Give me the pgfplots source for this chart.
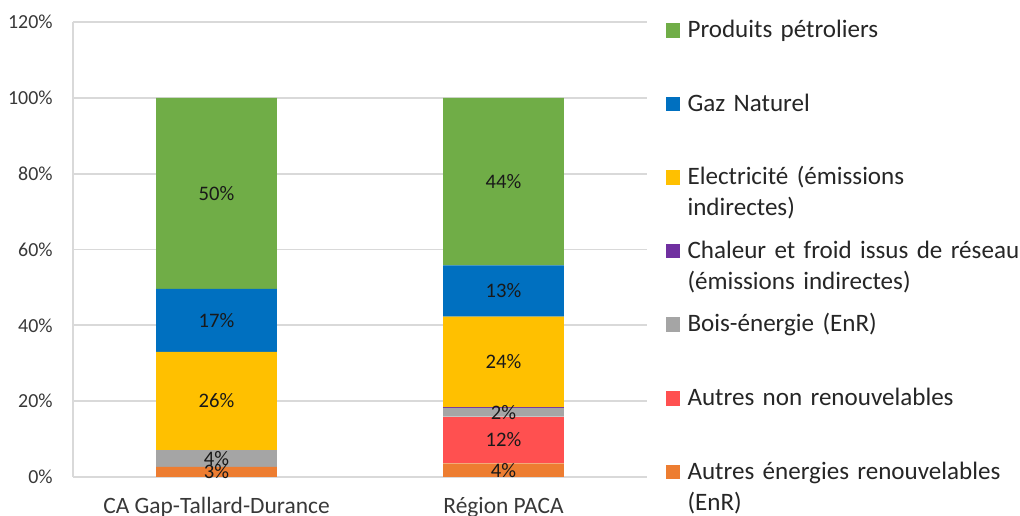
\documentclass[border=0pt]{standalone}
\usepackage{fontspec}
\setmainfont{Carlito}
\usepackage{pgfplots}
\usepackage{pgfplotstable}
\pgfplotsset{compat=1.18}

\definecolor{cpetro}{HTML}{70AD47}
\definecolor{cgaz}{HTML}{0070C0}
\definecolor{celec}{HTML}{FFC000}
\definecolor{cchal}{HTML}{7030A0}
\definecolor{cbois}{HTML}{A5A5A5}
\definecolor{cnonren}{HTML}{FF5050}
\definecolor{cener}{HTML}{ED7D31}
\definecolor{cgrid}{HTML}{D9D9D9}

% shares in %, with the labels as printed on the bars
\pgfplotstableread{
x ener lener nonren lnonren bois lbois chal elec lelec gaz lgaz petro lpetro
0 2.7 3\% 0.0 {} 4.4 4\% 0.0 25.9 26\% 16.6 17\% 50.4 50\%
1 3.6 4\% 12.3 12\% 2.3 2\% 0.2 23.9 24\% 13.5 13\% 44.2 44\%
}\parts

% stacked labels already sit in the middle of their segment
\pgfplotsset{
  lab/.style={
    nodes near coords, point meta=explicit symbolic,
    every node near coord/.append style={anchor=center,
      font=\fontsize{8.8}{10}\selectfont, text=black!90}
  }
}

\begin{document}
\begin{tikzpicture}
\begin{axis}[
  at={(0,0)}, anchor=south west,
  width=8.61cm, height=6.825cm, scale only axis,
  ybar stacked, bar width=0.42,
  xmin=-0.5, xmax=1.5, ymin=0, ymax=120,
  xtick={0,1}, xticklabels={CA Gap-Tallard-Durance, Région PACA},
  ytick={0,20,...,120},
  yticklabels={0\%,20\%,40\%,60\%,80\%,100\%,120\%},
  axis x line*=bottom, axis y line*=left,
  axis line style={cgrid, line width=0.8pt, -},
  ymajorgrids, grid style={cgrid, line width=0.8pt},
  major tick length=0pt,
  tick label style={text=black!78},
  yticklabel style={font=\fontsize{8.5}{10}\selectfont, anchor=east, inner xsep=0pt, xshift=-8.5pt},
  xticklabel style={font=\fontsize{10}{11}\selectfont, anchor=base, yshift=-15.7pt},
  reverse legend,
  legend style={at={(1,1)}, anchor=north west, xshift=7.7pt, yshift=1.5pt,
    draw=none, inner sep=0pt, column sep=3.2pt, row sep=0pt,
    font=\fontsize{10.7}{13.2}\selectfont, text=black!85,
    nodes={inner sep=0pt, text height=8pt, text depth=23.4pt, text width=5.6cm, align=left},
    cells={anchor=base west}},
  legend image code/.code={\fill[#1] (0pt,0pt) rectangle (6.2pt,6.2pt);},
]
\addplot[fill=cener, draw=none, lab] table[x=x, y=ener, meta=lener] {\parts};
\addlegendentry{Autres énergies renouvelables\\(EnR)}
\addplot[fill=cnonren, draw=none, lab] table[x=x, y=nonren, meta=lnonren] {\parts};
\addlegendentry{Autres non renouvelables}
\addplot[fill=cbois, draw=none, lab] table[x=x, y=bois, meta=lbois] {\parts};
\addlegendentry{Bois-énergie (EnR)}
\addplot[fill=cchal, draw=none] table[x=x, y=chal] {\parts};
\addlegendentry{Chaleur et froid issus de réseau\\(émissions indirectes)}
\addplot[fill=celec, draw=none, lab] table[x=x, y=elec, meta=lelec] {\parts};
\addlegendentry{Electricité (émissions\\indirectes)}
\addplot[fill=cgaz, draw=none, lab] table[x=x, y=gaz, meta=lgaz] {\parts};
\addlegendentry{Gaz Naturel}
\addplot[fill=cpetro, draw=none, lab] table[x=x, y=petro, meta=lpetro] {\parts};
\addlegendentry{Produits pétroliers}
\end{axis}
\pgfresetboundingbox
\useasboundingbox (-1.095cm,-0.585cm) rectangle (14.205cm,7.155cm);
\end{tikzpicture}
\end{document}
